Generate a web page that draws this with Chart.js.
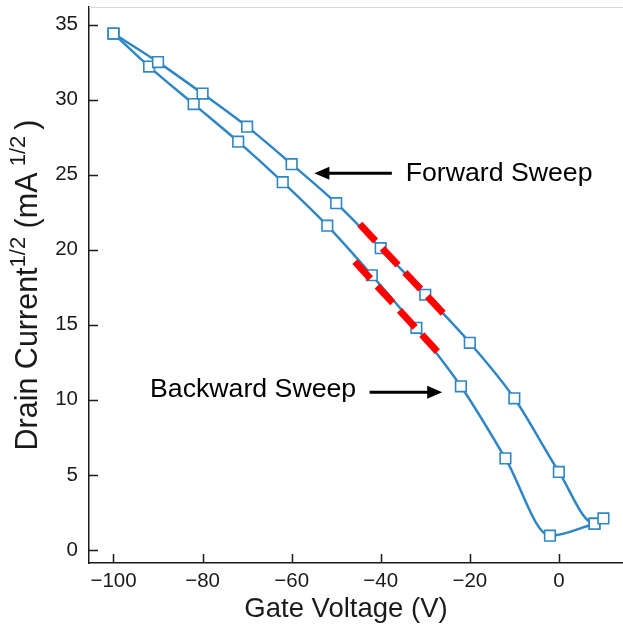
<!DOCTYPE html>
<html lang="en">
<head>
<meta charset="UTF-8">
<title>Drain current sweep</title>
<script src="https://cdn.jsdelivr.net/npm/chart.js"></script>
<style>
  html, body { margin: 0; padding: 0; background: #fff; }
  #chart { display: block; }
</style>
</head>
<body>
<canvas id="chart" width="623" height="626"></canvas>
<script>
// forward sweep (gate voltage going up)
var fwdV = [-100, -90, -80, -70, -60, -50, -40, -30, -20, -10, 0, 8, 10];
var fwdI = [34.4, 32.5, 30.4, 28.2, 25.7, 23.1, 20.1, 17.0, 13.8, 10.1, 5.2, 1.75, 2.1];
// backward sweep
var bwdV = [-100, -92, -82, -72, -62, -52, -42, -32, -22, -12, -2, 8];
var bwdI = [34.4, 32.2, 29.7, 27.2, 24.5, 21.6, 18.3, 14.8, 10.9, 6.1, 0.95, 1.75];
// red dashed linear fits
var fitFwdV = [-44.7, -24.5];
var fitFwdI = [21.7, 15.3];
var fitBwdV = [-45.8, -26.0];
var fitBwdI = [19.2, 12.8];

var xTicks = [-100, -80, -60, -40, -20, 0];
var yTicks = [0, 5, 10, 15, 20, 25, 30, 35];

var blue = '#2f86c4';
var ink = '#1a1a1a';
var FONT = 'Arial, "Liberation Sans", sans-serif';

function pts(xs, ys) {
    return xs.map(function (x, i) { return { x: x, y: ys[i] }; });
}

function arrow(ctx, x1, y1, x2, y2) {
    var dir = x2 > x1 ? 1 : -1;
    ctx.beginPath();
    ctx.moveTo(x1, y1);
    ctx.lineTo(x2 - dir * 12, y2);
    ctx.stroke();
    ctx.beginPath();
    ctx.moveTo(x2, y2);
    ctx.lineTo(x2 - dir * 15, y2 - 6.5);
    ctx.lineTo(x2 - dir * 15, y2 + 6.5);
    ctx.closePath();
    ctx.fill();
}

// text with superscript pieces: [text, isSup]
function richText(ctx, parts, size, supSize, supRise) {
    var total = 0;
    parts.forEach(function (p) {
        ctx.font = (p[1] ? supSize : size) + 'px ' + FONT;
        total += ctx.measureText(p[0]).width;
    });
    var x = -total / 2;
    parts.forEach(function (p) {
        ctx.font = (p[1] ? supSize : size) + 'px ' + FONT;
        ctx.fillText(p[0], x, p[1] ? -supRise : 0);
        x += ctx.measureText(p[0]).width;
    });
}

function noPad(s) {
    s.paddingLeft = 0; s.paddingRight = 0; s.paddingTop = 0; s.paddingBottom = 0;
}

var frame = {
    id: 'frame',
    beforeDatasetsDraw: function (chart) {
        var a = chart.chartArea, ctx = chart.ctx;
        ctx.save();
        ctx.strokeStyle = '#d9d9d9';
        ctx.lineWidth = 1;
        ctx.beginPath();
        ctx.moveTo(a.left, a.top + 0.5);
        ctx.lineTo(a.right, a.top + 0.5);
        ctx.stroke();
        ctx.restore();
    },
    afterDraw: function (chart) {
        var a = chart.chartArea, ctx = chart.ctx;
        var xs = chart.scales.x, ys = chart.scales.y;
        ctx.save();
        // inward tick marks
        ctx.strokeStyle = ink;
        ctx.lineWidth = 1.5;
        ctx.beginPath();
        xTicks.forEach(function (v) {
            var px = Math.round(xs.getPixelForValue(v)) + 0.5;
            ctx.moveTo(px, a.bottom);
            ctx.lineTo(px, a.bottom - 9);
        });
        yTicks.forEach(function (v) {
            var py = Math.round(ys.getPixelForValue(v)) + 0.5;
            ctx.moveTo(a.left, py);
            ctx.lineTo(a.left + 9, py);
        });
        ctx.stroke();

        // annotations
        ctx.fillStyle = '#000';
        ctx.strokeStyle = '#000';
        ctx.lineWidth = 3;
        ctx.font = '26.7px ' + FONT;
        ctx.textBaseline = 'middle';
        ctx.textAlign = 'left';
        ctx.fillText('Forward Sweep', xs.getPixelForValue(-34.4), ys.getPixelForValue(25.1));
        arrow(ctx, xs.getPixelForValue(-37.5), ys.getPixelForValue(25.1),
                   xs.getPixelForValue(-54.9), ys.getPixelForValue(25.1));
        ctx.fillText('Backward Sweep', xs.getPixelForValue(-91.8), ys.getPixelForValue(10.7));
        arrow(ctx, xs.getPixelForValue(-42.5), ys.getPixelForValue(10.5),
                   xs.getPixelForValue(-26.2), ys.getPixelForValue(10.5));

        // axis titles
        ctx.fillStyle = ink;
        ctx.textAlign = 'left';
        ctx.textBaseline = 'alphabetic';
        ctx.save();
        ctx.translate(346, 617);
        richText(ctx, [['Gate Voltage (V)', false]], 27.5, 18, 0);
        ctx.restore();

        ctx.save();
        ctx.translate(37, 285);
        ctx.rotate(-Math.PI / 2);
        richText(ctx, [['Drain Current', false], ['1/2', true], [' (mA', false],
                       [' 1/2 ', true], [')', false]], 30.5, 22, 12);
        ctx.restore();
        ctx.restore();
    }
};

var tickFont = { family: FONT, size: 20.5 };

new Chart(document.getElementById('chart'), {
    type: 'line',
    data: {
        datasets: [
            {
                data: pts(fitFwdV, fitFwdI),
                borderColor: '#ff0000', borderWidth: 7, borderDash: [23, 10],
                pointRadius: 0, tension: 0, borderCapStyle: 'butt'
            },
            {
                data: pts(fitBwdV, fitBwdI),
                borderColor: '#ff0000', borderWidth: 7, borderDash: [23, 10],
                pointRadius: 0, tension: 0, borderCapStyle: 'butt'
            },
            {
                label: 'Forward Sweep',
                data: pts(fwdV, fwdI),
                borderColor: blue, borderWidth: 2.5,
                pointStyle: 'rect', pointRadius: 7.5, pointBorderWidth: 1.6,
                pointBackgroundColor: '#fff', pointBorderColor: blue,
                cubicInterpolationMode: 'monotone'
            },
            {
                label: 'Backward Sweep',
                data: pts(bwdV, bwdI),
                borderColor: blue, borderWidth: 2.5,
                pointStyle: 'rect', pointRadius: 7.5, pointBorderWidth: 1.6,
                pointBackgroundColor: '#fff', pointBorderColor: blue,
                cubicInterpolationMode: 'monotone'
            }
        ]
    },
    options: {
        responsive: false,
        animation: false,
        devicePixelRatio: 1,
        layout: { autoPadding: false, padding: { top: 7, right: 0, left: 0, bottom: 0 } },
        plugins: { legend: { display: false }, tooltip: { enabled: false } },
        scales: {
            x: {
                type: 'linear',
                min: -105.5,
                max: 14.4,
                afterFit: function (s) { s.height = 63; noPad(s); },
                afterBuildTicks: function (s) { s.ticks = xTicks.map(function (v) { return { value: v }; }); },
                grid: { display: false, drawTicks: false },
                border: { display: true, color: ink, width: 1.5 },
                ticks: {
                    font: tickFont, color: ink, padding: 6, maxRotation: 0,
                    callback: function (v) { return String(v).replace('-', '\u2212'); }
                }
            },
            y: {
                type: 'linear',
                min: -0.87,
                max: 36.17,
                afterFit: function (s) { s.width = 89; noPad(s); },
                afterBuildTicks: function (s) { s.ticks = yTicks.map(function (v) { return { value: v }; }); },
                grid: { display: false, drawTicks: false },
                border: { display: true, color: ink, width: 1.5 },
                ticks: { font: tickFont, color: ink, padding: 11 }
            }
        }
    },
    plugins: [frame]
});
</script>
</body>
</html>
